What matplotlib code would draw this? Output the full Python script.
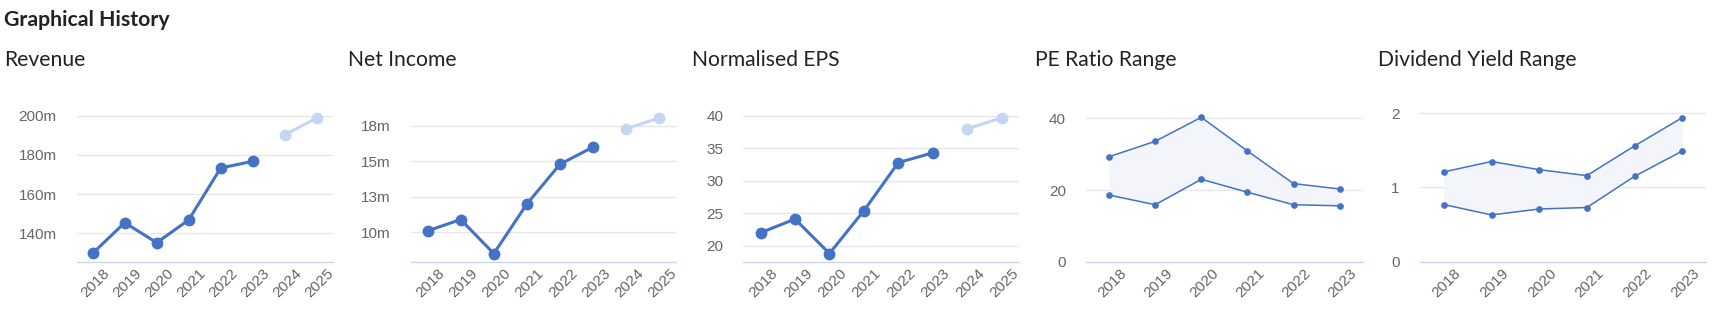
import matplotlib
matplotlib.use('Agg')
import matplotlib.pyplot as plt
import matplotlib.transforms as mtransforms

# Year labels
years_all = ['2018', '2019', '2020', '2021', '2022', '2023', '2024', '2025']
years_hist = years_all[:6]

# Revenue (m)
revenue = [129.8, 145.4, 135.2, 146.8, 173.3, 176.7]
revenue_fc = [190.2, 198.8]
revenue_ticks = [140, 160, 180, 200]
revenue_ticklabels = ['140m', '160m', '180m', '200m']

# Net income (m)
net_income = [10.1, 10.9, 8.5, 12.0, 14.8, 16.0]
net_income_fc = [17.3, 18.05]
net_income_ticks = [10, 12.5, 15, 17.5]
net_income_ticklabels = ['10m', '13m', '15m', '18m']

# Normalised EPS
eps = [22.0, 24.1, 18.8, 25.4, 32.8, 34.3]
eps_fc = [38.0, 39.7]
eps_ticks = [20, 25, 30, 35, 40]
eps_ticklabels = ['20', '25', '30', '35', '40']

# PE ratio range
pe_high = [29.3, 33.6, 40.3, 30.9, 21.8, 20.3]
pe_low = [18.6, 15.9, 23.0, 19.4, 15.9, 15.6]
pe_ticks = [0, 20, 40]
pe_ticklabels = ['0', '20', '40']

# Dividend yield range
dy_high = [1.21, 1.35, 1.24, 1.16, 1.56, 1.94]
dy_low = [0.77, 0.63, 0.71, 0.73, 1.15, 1.49]
dy_ticks = [0, 1, 2]
dy_ticklabels = ['0', '1', '2']

BLUE = '#4472c4'
LIGHT_BLUE = '#c5d6f2'
GRID = '#e6e6e6'
AXIS = '#ccd6eb'
LABEL = '#666666'
FILL = '#f3f5fa'

W, H = 1719, 326
TOP, BOTTOM = 108, 261.7

plt.rcParams['font.family'] = ['Lato', 'DejaVu Sans']

fig = plt.figure(figsize=(W / 100, H / 100), dpi=100)


def add_panel(left, right, title, title_x, ylim, ticks, ticklabels, cats):
    ax = fig.add_axes([left / W, 1 - BOTTOM / H, (right - left) / W, (BOTTOM - TOP) / H])
    ax.set_xlim(-0.5, len(cats) - 0.5)
    ax.set_ylim(*ylim)
    for side in ['top', 'right', 'left']:
        ax.spines[side].set_visible(False)
    ax.spines['bottom'].set_color(AXIS)
    ax.spines['bottom'].set_linewidth(1.0)
    ax.set_yticks(ticks, ticklabels)
    ax.grid(axis='y', color=GRID, linewidth=1.0)
    ax.set_axisbelow(True)
    ax.tick_params(axis='y', length=0, pad=14.5, labelsize=11, labelcolor=LABEL)
    ax.tick_params(axis='x', length=0, pad=7, labelsize=11, labelcolor=LABEL)
    for lab in ax.get_yticklabels():
        lab.set_family(['Liberation Sans', 'DejaVu Sans'])
    ax.set_xticks(range(len(cats)), cats, rotation=45, ha='right',
                  rotation_mode='anchor', family=['Liberation Sans', 'DejaVu Sans'])
    offset = mtransforms.ScaledTranslation(15 / 100, 0, fig.dpi_scale_trans)
    for lab in ax.get_xticklabels():
        lab.set_va('center')
        lab.set_transform(lab.get_transform() + offset)
    fig.text(title_x / W, 1 - 65.7 / H, title, fontsize=15.2, color='#222222',
             va='baseline', ha='left')
    return ax


def line_panel(ax, hist, fc):
    n = len(hist)
    ax.plot(range(n), hist, color=BLUE, linewidth=2.2, marker='o', markersize=7.5,
            solid_capstyle='round', zorder=3)
    ax.plot(range(n, n + len(fc)), fc, color=LIGHT_BLUE, linewidth=2.2, marker='o',
            markersize=7.5, zorder=3)


def range_panel(ax, high, low):
    x = range(len(high))
    ax.fill_between(x, low, high, color=FILL, linewidth=0, zorder=1)
    ax.plot(x, high, color=BLUE, linewidth=1.1, marker='o', markersize=3.8, zorder=3)
    ax.plot(x, low, color=BLUE, linewidth=1.1, marker='o', markersize=3.8, zorder=3)


ax1 = add_panel(76.7, 332.7, 'Revenue', 4.5, (125.5, 203.9),
                revenue_ticks, revenue_ticklabels, years_all)
line_panel(ax1, revenue, revenue_fc)

ax2 = add_panel(411, 676, 'Net Income', 348, (7.93, 18.75),
                net_income_ticks, net_income_ticklabels, years_all)
line_panel(ax2, net_income, net_income_fc)

ax3 = add_panel(743.3, 1019, 'Normalised EPS', 691.5, (17.54, 41.2),
                eps_ticks, eps_ticklabels, years_all)
line_panel(ax3, eps, eps_fc)

ax4 = add_panel(1086, 1362.7, 'PE Ratio Range', 1035, (0, 42.9),
                pe_ticks, pe_ticklabels, years_hist)
range_panel(ax4, pe_high, pe_low)

ax5 = add_panel(1420, 1706, 'Dividend Yield Range', 1378, (0, 2.071),
                dy_ticks, dy_ticklabels, years_hist)
range_panel(ax5, dy_high, dy_low)

fig.text(4 / W, 1 - 26 / H, 'Graphical History', fontsize=15.3, fontweight='bold',
         color='#222222', va='baseline', ha='left')

fig.savefig('out.png', dpi=100)
